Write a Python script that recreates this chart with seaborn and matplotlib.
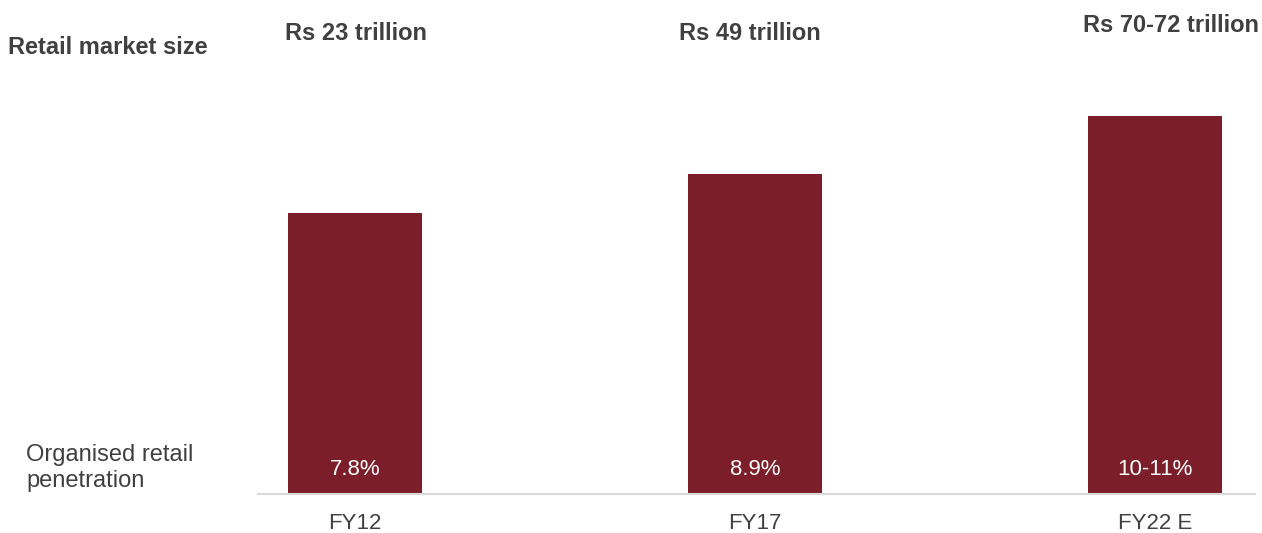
import matplotlib
matplotlib.use("Agg")
import matplotlib.pyplot as plt
import seaborn as sns
import pandas as pd

categories = ["FY12", "FY17", "FY22 E"]
penetration = [7.8, 8.9, 10.5]
penetration_labels = ["7.8%", "8.9%", "10-11%"]
market_size_labels = ["Rs 23 trillion", "Rs 49 trillion", "Rs 70-72 trillion"]

sns.set_theme(style="white")
plt.rcParams["font.family"] = ["Liberation Sans", "DejaVu Sans"]

W, H = 1262, 533
fig = plt.figure(figsize=(W / 100, H / 100), dpi=100)
left, right, bottom, top = 258, 1255, 494, 62
ax = fig.add_axes([left / W, (H - bottom) / H, (right - left) / W, (bottom - top) / H])

df = pd.DataFrame({"cat": categories, "val": penetration})
bar_color = "#7B1E29"
sns.barplot(data=df, x="cat", y="val", color=bar_color, width=0.333,
            saturation=1, ax=ax, linewidth=0)

ax.set_xlim(-0.2425, 2.25)
ax.set_ylim(0, 12)
ax.set_xlabel("")
ax.set_ylabel("")
ax.set_yticks([])
for s in ["top", "right", "left"]:
    ax.spines[s].set_visible(False)
ax.spines["bottom"].set_color("#D9D9D9")
ax.spines["bottom"].set_linewidth(1.5)
ax.tick_params(axis="x", length=0, pad=14, labelsize=16, labelcolor="#404040")

text_color = "#404040"
for i, lab in enumerate(penetration_labels):
    ax.text(i, 0.67, lab, ha="center", va="center", color="white", fontsize=16)

top_x = [356, 750, 1171]
top_y = [34, 34, 26]
for x, y, lab in zip(top_x, top_y, market_size_labels):
    fig.text(x / W, 1 - y / H, lab, ha="center", va="center", fontsize=17,
             fontweight="bold", color=text_color)

fig.text(8 / W, 1 - 47 / H, "Retail market size", ha="left", va="center",
         fontsize=17, fontweight="bold", color=text_color)
fig.text(26 / W, 1 - 468 / H, "Organised retail\npenetration", ha="left", va="center",
         fontsize=17, color=text_color, linespacing=1.27)

fig.savefig("out.png", dpi=100)
